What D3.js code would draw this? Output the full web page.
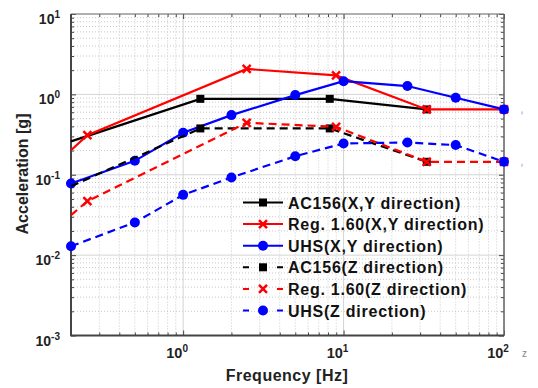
<!DOCTYPE html>
<html>
<head>
<meta charset="utf-8">
<script src="https://cdn.jsdelivr.net/npm/d3@7"></script>
<style>
  html, body { margin: 0; padding: 0; background: #fff; }
  svg { display: block; font-family: "Liberation Sans", Arial, sans-serif; }
</style>
</head>
<body>
<div id="chart"></div>
<script>
// ---------- data ----------
const seriesNames = [
    "AC156(X,Y direction)", "Reg. 1.60(X,Y direction)", "UHS(X,Y direction)",
    "AC156(Z direction)", "Reg. 1.60(Z direction)", "UHS(Z direction)"
];
const freqAcXY = [0.2, 1.28, 8.2, 33];
const accAcXY = [0.26, 0.88, 0.88, 0.65];
const freqRegXY = [0.2, 0.253, 2.49, 8.98, 33, 100];
const accRegXY = [0.202, 0.311, 2.07, 1.72, 0.65, 0.65];
const freqUhsXY = [0.2, 0.5, 1, 2, 5, 10, 25, 50, 100];
const accUhsXY = [0.078, 0.149, 0.333, 0.552, 0.98, 1.46, 1.27, 0.907, 0.65];
const freqAcZ = [0.2, 1.28, 8.2, 33];
const accAcZ = [0.072, 0.377, 0.377, 0.145];
const freqRegZ = [0.2, 0.253, 2.49, 8.98, 33, 100];
const accRegZ = [0.0314, 0.0469, 0.443, 0.395, 0.145, 0.145];
const freqUhsZ = [0.2, 0.5, 1, 2, 5, 10, 25, 50, 100];
const accUhsZ = [0.0129, 0.0255, 0.0562, 0.0925, 0.17, 0.245, 0.252, 0.234, 0.145];
const xDecades = [1, 10, 100];
const xDecadeLabels = ["0", "1", "2"];
const yDecades = [1e-3, 1e-2, 1e-1, 1, 10];
const yDecadeLabels = ["-3", "-2", "-1", "0", "1"];

// ---------- styles ----------
const colors = ["#000", "#ff0000", "#0000ff", "#000", "#ff0000", "#0000ff"];
const markers = ["square", "cross", "circle", "square", "cross", "circle"];
const dashed = [false, false, false, true, true, true];
const markFrom = [1, 1, 0, 1, 1, 0];   // first points at the left edge have no marker

const W = 538, H = 388;
const svg = d3.select("#chart").append("svg").attr("width", W).attr("height", H);
svg.append("rect").attr("width", W).attr("height", H).attr("fill", "#fff");

const x = d3.scaleLog().domain([0.2, 100]).range([71, 504]);
const y = d3.scaleLog().domain([1e-3, 10]).range([335.5, 14]);
const [x0, x1] = x.range(), [y0, y1] = y.range();

function minorTicks(lo, hi) {
    const out = [];
    for (let e = Math.floor(Math.log10(lo)); e <= Math.ceil(Math.log10(hi)); e++) {
        for (let m = 2; m <= 9; m++) {
            const v = m * Math.pow(10, e);
            if (v >= lo * 0.999 && v <= hi * 1.001) out.push(v);
        }
    }
    return out;
}
const xMinor = minorTicks(0.2, 100);
const yMinor = minorTicks(1e-3, 10);

// ---------- grid ----------
const grid = svg.append("g");
grid.selectAll(".gxm").data(xMinor).join("line")
    .attr("x1", d => x(d)).attr("x2", d => x(d)).attr("y1", y0).attr("y2", y1)
    .attr("stroke", "#c8c8c8").attr("stroke-width", 1).attr("stroke-dasharray", "1,2");
grid.selectAll(".gym").data(yMinor).join("line")
    .attr("x1", x0).attr("x2", x1).attr("y1", d => y(d)).attr("y2", d => y(d))
    .attr("stroke", "#c8c8c8").attr("stroke-width", 1).attr("stroke-dasharray", "1,2");
grid.selectAll(".gxM").data(xDecades).join("line")
    .attr("x1", d => x(d)).attr("x2", d => x(d)).attr("y1", y0).attr("y2", y1)
    .attr("stroke", "#d4d4d4").attr("stroke-width", 1);
grid.selectAll(".gyM").data(yDecades).join("line")
    .attr("x1", x0).attr("x2", x1).attr("y1", d => y(d)).attr("y2", d => y(d))
    .attr("stroke", "#d4d4d4").attr("stroke-width", 1);

// ---------- axes (inward ticks, all four sides) ----------
function tickAxis(axis, transform) {
    const g = svg.append("g").attr("transform", transform).call(axis);
    g.select(".domain").remove();
    g.selectAll("line").attr("stroke", "#444");
    return g;
}
tickAxis(d3.axisBottom(x).tickValues(xMinor).tickSize(-3).tickFormat(""), `translate(0,${y0})`);
tickAxis(d3.axisBottom(x).tickValues(xDecades).tickSize(-5).tickFormat(""), `translate(0,${y0})`);
tickAxis(d3.axisTop(x).tickValues(xMinor).tickSize(-3).tickFormat(""), `translate(0,${y1})`);
tickAxis(d3.axisTop(x).tickValues(xDecades).tickSize(-5).tickFormat(""), `translate(0,${y1})`);
tickAxis(d3.axisLeft(y).tickValues(yMinor).tickSize(-3).tickFormat(""), `translate(${x0},0)`);
tickAxis(d3.axisLeft(y).tickValues(yDecades).tickSize(-5).tickFormat(""), `translate(${x0},0)`);
tickAxis(d3.axisRight(y).tickValues(yMinor).tickSize(-3).tickFormat(""), `translate(${x1},0)`);
tickAxis(d3.axisRight(y).tickValues(yDecades).tickSize(-5).tickFormat(""), `translate(${x1},0)`);

// box
svg.append("line").attr("x1", x0).attr("x2", x1).attr("y1", y1).attr("y2", y1).attr("stroke", "#777").attr("stroke-width", 1.2);
svg.append("line").attr("x1", x1).attr("x2", x1).attr("y1", y1).attr("y2", y0).attr("stroke", "#666").attr("stroke-width", 1.5);
svg.append("line").attr("x1", x0).attr("x2", x0).attr("y1", y1).attr("y2", y0 + 0.75).attr("stroke", "#444").attr("stroke-width", 2);
svg.append("line").attr("x1", x0).attr("x2", x1).attr("y1", y0).attr("y2", y0).attr("stroke", "#444").attr("stroke-width", 2);

// tick labels
const lab = svg.append("g").attr("fill", "#222").attr("font-weight", "bold");
xDecades.forEach((d, i) => {
    const t = lab.append("text").attr("x", x(d) - 6).attr("y", y0 + 22)
        .attr("text-anchor", "middle").attr("font-size", 14.5);
    t.append("tspan").text("10");
    t.append("tspan").attr("dy", -6).attr("font-size", 10).text(xDecadeLabels[i]);
});
yDecades.forEach((d, i) => {
    const t = lab.append("text").attr("x", 60).attr("y", y(d) + 10)
        .attr("text-anchor", "end").attr("font-size", 14);
    t.append("tspan").text("10");
    t.append("tspan").attr("dy", -6).attr("font-size", 10).text(yDecadeLabels[i]);
});

// axis titles
svg.append("text").attr("x", 287).attr("y", 381).attr("text-anchor", "middle")
    .attr("font-size", 16).attr("font-weight", "bold").attr("fill", "#222")
    .attr("letter-spacing", 0.5).text("Frequency [Hz]");
svg.append("text").attr("transform", "translate(28,174) rotate(-90)").attr("text-anchor", "middle")
    .attr("font-size", 16).attr("font-weight", "bold").attr("fill", "#222")
    .text("Acceleration [g]");

// stray remnants at the right edge of the reference
svg.append("text").attr("x", 522).attr("y", 357).attr("font-size", 10).attr("fill", "#888").text("z");
svg.selectAll(".stray").data([0.65, 0.145]).join("line")
    .attr("x1", 522).attr("x2", 522).attr("y1", d => y(d) + 2).attr("y2", d => y(d) + 5)
    .attr("stroke", "#9aa0ff").attr("stroke-width", 1);

// ---------- series ----------
const allSeries = [
    [freqAcXY, accAcXY], [freqRegXY, accRegXY], [freqUhsXY, accUhsXY],
    [freqAcZ, accAcZ], [freqRegZ, accRegZ], [freqUhsZ, accUhsZ]
].map(([f, a], i) => ({ name: seriesNames[i], pts: f.map((v, j) => [v, a[j]]) }));

const line = d3.line().x(d => x(d[0])).y(d => y(d[1]));

function drawMarker(g, type, cx, cy, color) {
    if (type === "square") {
        g.append("rect").attr("x", cx - 4).attr("y", cy - 4).attr("width", 8).attr("height", 8).attr("fill", color);
    } else if (type === "circle") {
        g.append("circle").attr("cx", cx).attr("cy", cy).attr("r", 5).attr("fill", color);
    } else {
        const s = 4;
        g.append("path").attr("d", `M${cx - s},${cy - s}L${cx + s},${cy + s}M${cx - s},${cy + s}L${cx + s},${cy - s}`)
            .attr("stroke", color).attr("stroke-width", 2.5).attr("fill", "none");
    }
}

allSeries.forEach((s, i) => {
    const g = svg.append("g");
    g.append("path").datum(s.pts).attr("d", line)
        .attr("fill", "none").attr("stroke", colors[i]).attr("stroke-width", 2.2)
        .attr("stroke-dasharray", dashed[i] ? "8,5" : null);
    s.pts.slice(markFrom[i]).forEach(p => drawMarker(g, markers[i], x(p[0]), y(p[1]), colors[i]));
});

// ---------- legend ----------
const leg = svg.append("g");
seriesNames.forEach((name, i) => {
    const ly = 202.5 + i * 21.6;
    leg.append("line").attr("x1", 243).attr("x2", 283).attr("y1", ly).attr("y2", ly)
        .attr("stroke", colors[i]).attr("stroke-width", 2)
        .attr("stroke-dasharray", dashed[i] ? "6,28" : null);
    drawMarker(leg, markers[i], 263, ly, colors[i]);
    leg.append("text").attr("x", 288).attr("y", ly + 6).attr("font-size", 16)
        .attr("font-weight", "bold").attr("fill", "#111").attr("letter-spacing", 0.75).text(name);
});
</script>
</body>
</html>
